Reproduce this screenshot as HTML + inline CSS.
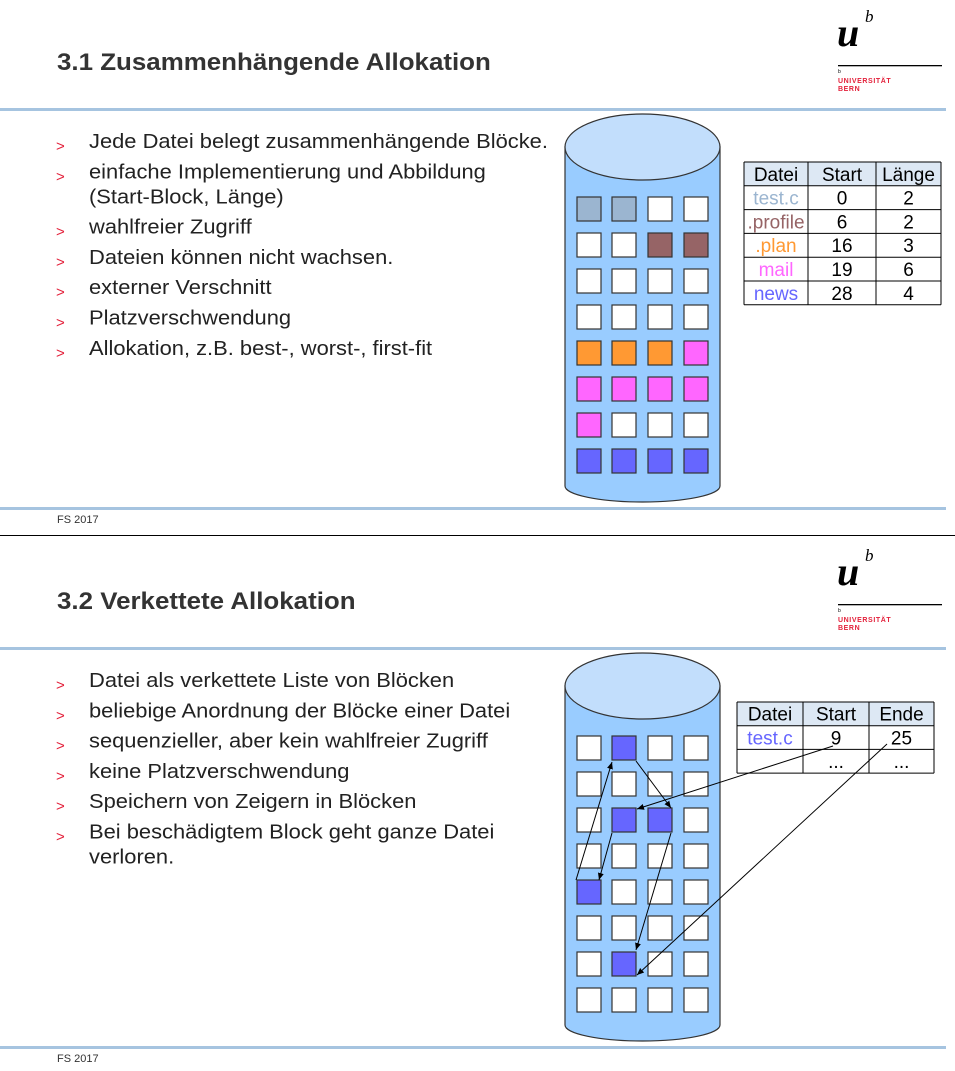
<!DOCTYPE html>
<html><head><meta charset="utf-8"><style>
html,body{margin:0;padding:0;background:#fff;}
svg{display:block;font-family:"Liberation Sans",Arial,sans-serif;}
</style></head><body>
<svg id="s" width="955" height="1071" viewBox="0 0 955 1071" xmlns="http://www.w3.org/2000/svg">
<defs><marker id="ah" markerWidth="8" markerHeight="8" refX="7" refY="4" orient="auto" markerUnits="userSpaceOnUse"><path d="M0,1 L7,4 L0,7 z" fill="#000"/></marker></defs>
<g id="g1"></g>
<g id="g2" transform="translate(0,539)"></g>
<line x1="0" y1="535.5" x2="955" y2="535.5" stroke="#000" stroke-width="1"/>
</svg>
<script>
const NS="http://www.w3.org/2000/svg";
function mk(p,t,a,txt){const e=document.createElementNS(NS,t);for(const k in a)e.setAttribute(k,a[k]);if(txt!==undefined)e.textContent=txt;p.appendChild(e);return e;}
const titles=["3.1 Zusammenhängende Allokation","3.2 Verkettete Allokation"];
const bullets1=[["Jede Datei belegt zusammenhängende Blöcke."],["einfache Implementierung und Abbildung","(Start-Block, Länge)"],["wahlfreier Zugriff"],["Dateien können nicht wachsen."],["externer Verschnitt"],["Platzverschwendung"],["Allokation, z.B. best-, worst-, first-fit"]];
const bullets2=[["Datei als verkettete Liste von Blöcken"],["beliebige Anordnung der Blöcke einer Datei"],["sequenzieller, aber kein wahlfreier Zugriff"],["keine Platzverschwendung"],["Speichern von Zeigern in Blöcken"],["Bei beschädigtem Block geht ganze Datei","verloren."]];
const W="#fff",T="#9bb5d0",P="#966466",O="#ff9933",M="#ff66ff",N="#6666ff";
const blocks1=[T,T,W,W, W,W,P,P, W,W,W,W, W,W,W,W, O,O,O,M, M,M,M,M, M,W,W,W, N,N,N,N];
const blocks2=[W,N,W,W, W,W,W,W, W,N,N,W, W,W,W,W, N,W,W,W, W,W,W,W, W,N,W,W, W,W,W,W];
const table1Head=["Datei","Start","Länge"];
const table1Rows=[["test.c","0","2"],[".profile","6","2"],[".plan","16","3"],["mail","19","6"],["news","28","4"]];
const table1Colors=["#9bb5d0","#966466","#ff9933","#ff66ff","#6666ff"];
const table2Head=["Datei","Start","Ende"];
const table2Rows=[["test.c","9","25"],["","...","..."]];

function slide(g,idx,bullets,blocks,top){
  const tw=mk(g,"g",{transform:"translate(57,0) scale(1.08,1)"});
  const t=mk(tw,"text",{x:0,y:70,"font-size":"24","font-weight":"bold",fill:"#333"},titles[idx]);
  
  
  let r=mk(g,"rect",{x:0,y:108,width:946,height:3,fill:"#a6c4e0"});
  
  
  r=mk(g,"rect",{x:0,y:507,width:946,height:3,fill:"#a6c4e0"});
  
  
  let f=mk(g,"text",{x:57,y:523,"font-size":"11",fill:"#333"},"FS 2017");
  
  
  const lg=mk(g,"g",{});
  
  
  mk(lg,"text",{x:837,y:46,"font-size":"40","font-weight":"bold","font-style":"italic","font-family":"Liberation Serif,serif",fill:"#000"},"u");
  mk(lg,"text",{x:865,y:22,"font-size":"17","font-style":"italic","font-family":"Liberation Serif,serif",fill:"#000"},"b");
  mk(lg,"rect",{x:838,y:65,width:104,height:1.3,fill:"#000"});
  mk(lg,"text",{x:838,y:73,"font-size":"5",fill:"#000"},"b");
  mk(lg,"text",{x:838,y:83,"font-size":"7","font-weight":"bold","letter-spacing":"0.6",fill:"#e3203a"},"UNIVERSITÄT");
  mk(lg,"text",{x:838,y:91,"font-size":"7","font-weight":"bold","letter-spacing":"0.6",fill:"#e3203a"},"BERN");
  let y=top;
  bullets.forEach(b=>{
    const bg=mk(g,"g",{});
    
    
    mk(bg,"text",{x:56,y:y+10,"font-size":"15",fill:"#e3203a"},">");
    const sg=mk(bg,"g",{transform:"translate(89,0) scale(1.095,1)"});
    b.forEach((ln,i)=>{mk(sg,"text",{x:0,y:y+7+i*25,"font-size":"20",fill:"#222"},ln);});
    y+=25*(b.length-1)+30.3;
  });
  const cy=mk(g,"g",{});
  
  
  mk(cy,"path",{d:"M565,147 L565,486 A77.5,16 0 0 0 720,486 L720,147 Z",fill:"#99ccff",stroke:"#333","stroke-width":"1.2"});
  mk(cy,"ellipse",{cx:642.5,cy:147,rx:77.5,ry:33,fill:"#c2defc",stroke:"#333","stroke-width":"1.2"});
  const cx0=[577,612,648,684];
  blocks.forEach((c,i)=>{
    const b=mk(g,"rect",{x:cx0[i%4],y:197+36*Math.floor(i/4),width:24,height:24,fill:c,stroke:"#333","stroke-width":"1.2"});
    
    
  });
}
function table(g,x,y,cols,rowH,head,rows,colors){
  const tg=mk(g,"g",{});
  
  
  mk(tg,"rect",{x:x,y:y,width:cols[cols.length-1]-x,height:rowH,fill:"#dde8f4"});
  const n=rows.length+1, totalW=cols[cols.length-1]-x;
  for(let i=0;i<=n;i++)mk(tg,"line",{x1:x,x2:x+totalW,y1:y+i*rowH,y2:y+i*rowH,stroke:"#000","stroke-width":"1"});
  const xs=[x].concat(cols);
  xs.forEach(cx=>mk(tg,"line",{x1:cx,x2:cx,y1:y,y2:y+n*rowH,stroke:"#000","stroke-width":"1"}));
  const all=[head].concat(rows);
  all.forEach((r,ri)=>r.forEach((v,ci)=>{
    mk(tg,"text",{x:(xs[ci]+xs[ci+1])/2,y:y+ri*rowH+rowH-5,"font-size":"19","text-anchor":"middle",fill:(ri>0&&ci==0)?colors[ri-1]:"#000"},v);
  }));
}
const g1=document.getElementById("g1"),g2=document.getElementById("g2");
slide(g1,0,bullets1,blocks1,141);
slide(g2,1,bullets2,blocks2,141);
table(g1,744,162,[808,876,941],23.8,table1Head,table1Rows,table1Colors);
table(g2,737,163,[803,869,934],23.7,table2Head,table2Rows,["#6666ff","#000"]);
const arrows=[[833,207,637,270],[612,294,599,341],[576,341,612,223],[636,222,671,269],[671,294,636,411],[887,205,637,436]];
arrows.forEach(a=>{
  const l=mk(g2,"line",{x1:a[0],y1:a[1],x2:a[2],y2:a[3],stroke:"#000","stroke-width":"1","marker-end":"url(#ah)"});
  
  
});
</script>
</body></html>
